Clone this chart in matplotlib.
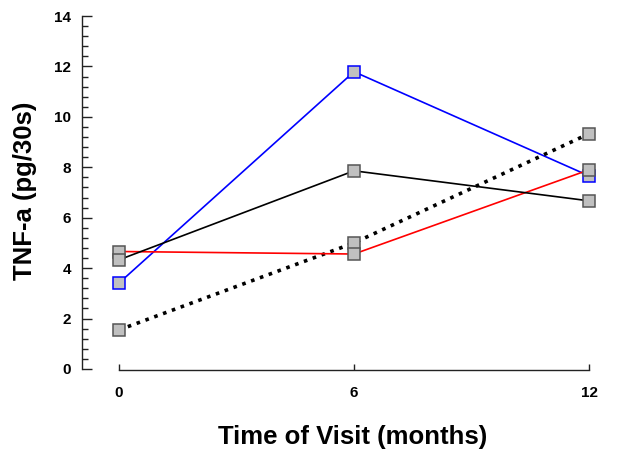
import matplotlib.pyplot as plt
from matplotlib.ticker import MultipleLocator

plt.rcParams['font.family'] = ['Liberation Sans', 'DejaVu Sans']
plt.rcParams['font.weight'] = 'bold'

visits = [0, 6, 12]
blue_vals = [3.41, 11.79, 7.66]
black_vals = [4.33, 7.86, 6.67]
red_vals = [4.66, 4.56, 7.9]
dotted_vals = [1.55, 5.0, 9.33]

fig = plt.figure(figsize=(6.17, 4.59), dpi=100)
ax = fig.add_axes([82 / 617, (459 - 369) / 459, (600 - 82) / 617, (369 - 16) / 459])

mk = dict(marker='s', markersize=8, markerfacecolor='#c0c0c0', markeredgewidth=1.1)

ax.plot(visits, dotted_vals, color='black', linewidth=2.6, linestyle=(0, (1, 1.6)),
        dash_capstyle='butt', markeredgecolor='#555555', clip_on=False, zorder=3, **mk)
ax.plot(visits, red_vals, color='red', linewidth=1.2,
        markeredgecolor='#555555', clip_on=False, zorder=4, **mk)
ax.plot(visits, black_vals, color='black', linewidth=1.2,
        markeredgecolor='#555555', clip_on=False, zorder=5, **mk)
ax.plot(visits, blue_vals, color='blue', linewidth=1.2,
        markeredgecolor='blue', clip_on=False, zorder=2, **mk)

# x axis: 0 at px 119, 12 at px 589
scale = (589 - 119) / 12
ax.set_xlim(-(119 - 82) / scale, 12 + (600 - 589) / scale)
ax.set_ylim(0, 14)

ax.spines['top'].set_visible(False)
ax.spines['right'].set_visible(False)
ax.spines['bottom'].set_bounds(0, 12)
ax.spines['bottom'].set_position(('outward', 1))
for side in ('left', 'bottom'):
    ax.spines[side].set_linewidth(1.0)
    ax.spines[side].set_color('#222222')

ax.set_xticks(visits)
ax.set_yticks(range(0, 15, 2))
ax.yaxis.set_minor_locator(MultipleLocator(0.4))
ax.tick_params(axis='y', which='major', direction='in', length=7, width=1, pad=8,
               color='#222222', labelsize=11)
ax.tick_params(axis='y', which='minor', direction='in', length=4, width=1, color='#222222')
ax.tick_params(axis='x', which='major', direction='in', length=4, width=1, pad=11,
               color='#222222', labelsize=11)

fig.text(25 / 617, 1 - 191 / 459, 'TNF-a (pg/30s)', rotation=90, fontsize=18.5,
         fontweight='bold', ha='center', va='center')
fig.text(353 / 617, 1 - 437 / 459, 'Time of Visit (months)', fontsize=18.5,
         fontweight='bold', ha='center', va='center')

fig.savefig('out.png', dpi=100)
